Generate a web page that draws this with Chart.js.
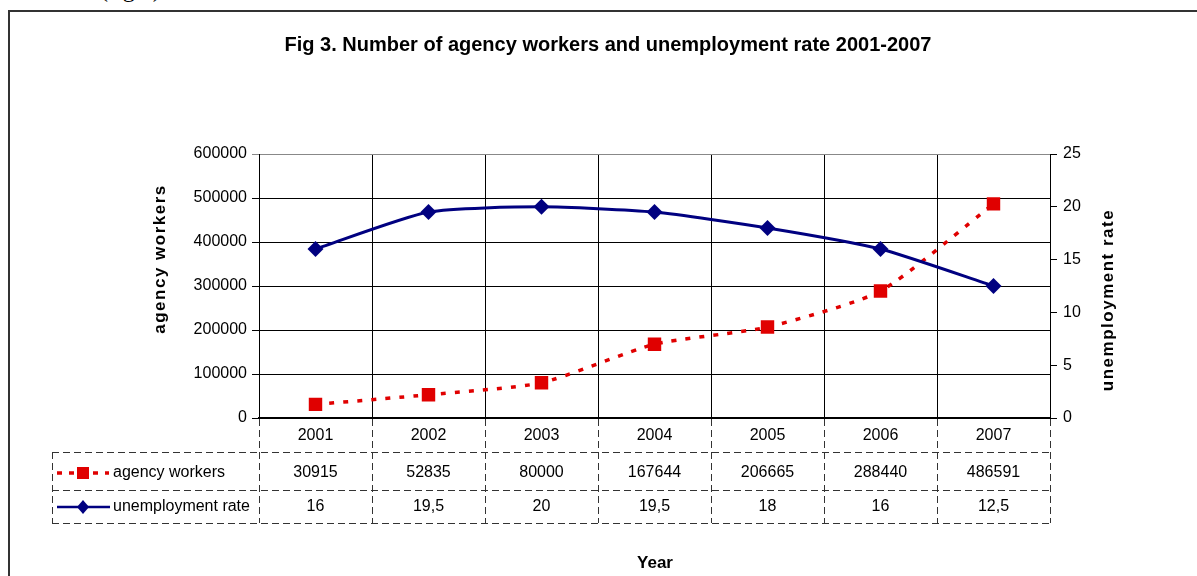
<!DOCTYPE html>
<html>
<head>
<meta charset="utf-8">
<script src="https://cdn.jsdelivr.net/npm/chart.js@4.4.1/dist/chart.umd.min.js"></script>
<style>
  html, body { margin: 0; padding: 0; background: #fff; overflow: hidden; }
  #wrap { position: relative; width: 1197px; height: 576px; }
  #frame { position: absolute; left: 8px; top: 10px; width: 1300px; height: 700px; border: 2px solid #333; }
  #above { position: absolute; left: 100px; top: -24px; font: 24px 'Liberation Serif', serif; color: #000; }
  canvas { position: absolute; left: 0; top: 0; }
</style>
</head>
<body>
<div id="wrap">
  <div id="frame"></div>
  <div id="above">(fig.3)</div>
  <canvas id="chart" width="1197" height="576"></canvas>
</div>
<script>
/* Fig 3 - agency workers vs unemployment rate */

const years = ['2001', '2002', '2003', '2004', '2005', '2006', '2007'];
const agencyWorkers = [30915, 52835, 80000, 167644, 206665, 288440, 486591];
const unemploymentRate = [16, 19.5, 20, 19.5, 18, 16, 12.5];
// table row text, as printed under the chart
const agencyText = ['30915', '52835', '80000', '167644', '206665', '288440', '486591'];
const rateText = ['16', '19,5', '20', '19,5', '18', '16', '12,5'];

const RED = '#e00000';
const NAVY = '#000080';
const FONT = "'Liberation Sans', Arial, sans-serif";

// ── draws title, axis titles and the data table ──
const tablePlugin = {
  id: 'dataTable',
  afterDraw(chart) {
    const ctx = chart.ctx;
    const x = chart.scales.x;
    const area = chart.chartArea;
    const n = years.length;
    const step = (area.right - area.left) / n;
    const rowTop = area.bottom;
    const r1 = 452, r2 = 490, r3 = 523;
    const leftCol = 52;

    ctx.save();
    // dashed grid of the table
    ctx.strokeStyle = '#333';
    ctx.lineWidth = 1;
    ctx.setLineDash([7, 4]);
    ctx.beginPath();
    for (let i = 0; i <= n; i++) {
      const bx = Math.round(area.left + i * step) + 0.5;
      ctx.moveTo(bx, rowTop + 1);
      ctx.lineTo(bx, r3);
    }
    [r1, r2, r3].forEach(y => {
      ctx.moveTo(leftCol, y + 0.5);
      ctx.lineTo(area.right, y + 0.5);
    });
    ctx.moveTo(leftCol + 0.5, r1);
    ctx.lineTo(leftCol + 0.5, r3);
    ctx.stroke();

    // cell text
    ctx.setLineDash([]);
    ctx.fillStyle = '#000';
    ctx.font = '16px ' + FONT;
    ctx.textAlign = 'center';
    ctx.textBaseline = 'middle';
    for (let i = 0; i < n; i++) {
      const cx = x.getPixelForValue(i);
      ctx.fillText(years[i], cx, 436);
      ctx.fillText(agencyText[i], cx, 473);
      ctx.fillText(rateText[i], cx, 507);
    }

    // legend keys in the first column
    ctx.strokeStyle = RED;
    ctx.lineWidth = 3.5;
    ctx.setLineDash([5, 7]);
    ctx.beginPath();
    ctx.moveTo(57, 473);
    ctx.lineTo(109, 473);
    ctx.stroke();
    ctx.setLineDash([]);
    ctx.fillStyle = RED;
    ctx.fillRect(77, 467, 12, 12);

    ctx.strokeStyle = NAVY;
    ctx.lineWidth = 2.5;
    ctx.beginPath();
    ctx.moveTo(57, 507);
    ctx.lineTo(110, 507);
    ctx.stroke();
    ctx.fillStyle = NAVY;
    ctx.beginPath();
    ctx.moveTo(83, 500);
    ctx.lineTo(89, 507);
    ctx.lineTo(83, 514);
    ctx.lineTo(77, 507);
    ctx.closePath();
    ctx.fill();

    ctx.fillStyle = '#000';
    ctx.textAlign = 'left';
    ctx.fillText('agency workers', 113, 473);
    ctx.fillText('unemployment rate', 113, 507);

    // titles
    ctx.textAlign = 'center';
    ctx.font = 'bold 20px ' + FONT;
    ctx.fillText('Fig 3. Number of agency workers and unemployment rate 2001-2007', 608, 45);
    ctx.font = 'bold 17px ' + FONT;
    ctx.fillText('Year', 655, 563);

    ctx.letterSpacing = '1.5px';
    ctx.translate(160, 259);
    ctx.rotate(-Math.PI / 2);
    ctx.fillText('agency workers', 0, 0);
    ctx.restore();

    ctx.save();
    ctx.fillStyle = '#000';
    ctx.font = 'bold 17px ' + FONT;
    ctx.textAlign = 'center';
    ctx.textBaseline = 'middle';
    ctx.letterSpacing = '1.5px';
    ctx.translate(1108, 300);
    ctx.rotate(-Math.PI / 2);
    ctx.fillText('unemployment rate', 0, 0);
    ctx.restore();
  }
};

const ctx = document.getElementById('chart').getContext('2d');
new Chart(ctx, {
  type: 'line',
  data: {
    labels: years,
    datasets: [{
      label: 'unemployment rate',
      data: unemploymentRate,
      yAxisID: 'y2',
      borderColor: NAVY,
      backgroundColor: NAVY,
      borderWidth: 3,
      pointStyle: 'rectRot',
      pointRadius: 8,
      pointBorderWidth: 0,
      tension: 0.2,
      order: 0
    }, {
      label: 'agency workers',
      data: agencyWorkers,
      yAxisID: 'y',
      borderColor: RED,
      backgroundColor: RED,
      borderWidth: 3.5,
      borderDash: [5, 9],
      pointStyle: 'rect',
      pointRadius: 9.5,
      pointBorderWidth: 0,
      tension: 0.2,
      order: 1
    }]
  },
  options: {
    responsive: false,
    animation: false,
    layout: { padding: { top: 154, bottom: 158, left: 0, right: 0 } },
    plugins: {
      legend: { display: false },
      title: { display: false },
      tooltip: { enabled: false }
    },
    scales: {
      x: {
        offset: true,
        grid: { offset: true, color: '#000', drawTicks: false },
        border: { color: '#000', width: 1.5 },
        ticks: { display: false },
        afterFit: s => { s.height = 0; }
      },
      y: {
        position: 'left',
        min: 0,
        max: 600000,
        ticks: {
          stepSize: 100000,
          color: '#000',
          font: { family: FONT, size: 16 },
          padding: 5,
          callback: v => String(v)
        },
        grid: {
          color: ctx => ctx.tick && ctx.tick.value === 600000 ? '#888' : '#000',
          tickLength: 7
        },
        border: { color: '#000' },
        afterFit: s => { s.width = 259; }
      },
      y2: {
        position: 'right',
        min: 0,
        max: 25,
        ticks: {
          stepSize: 5,
          color: '#000',
          font: { family: FONT, size: 16 },
          padding: 6,
          callback: v => String(v)
        },
        grid: { drawOnChartArea: false, color: '#000', tickLength: 7 },
        border: { color: '#000' },
        afterFit: s => { s.width = 147; }
      }
    }
  },
  plugins: [tablePlugin]
});
</script>
</body>
</html>
